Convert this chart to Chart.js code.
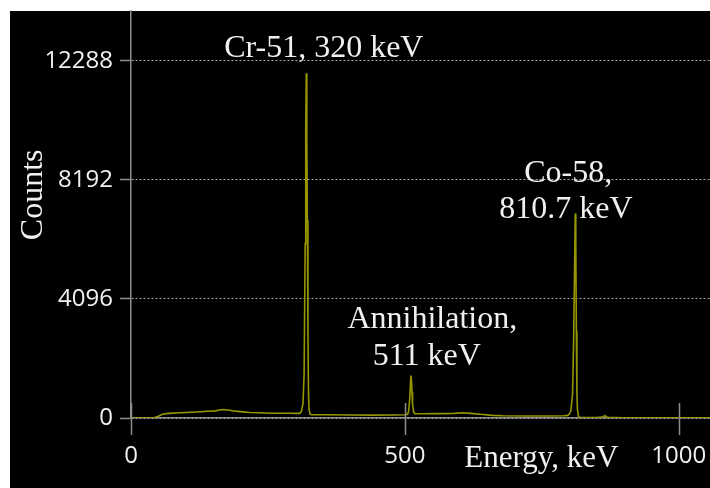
<!DOCTYPE html>
<html><head><meta charset="utf-8">
<script src="https://cdn.jsdelivr.net/npm/chart.js@4/dist/chart.umd.min.js"></script>
<style>html,body{margin:0;padding:0;background:#fff;overflow:hidden}canvas{display:block}</style>
</head><body>
<canvas id="c" width="710" height="488"></canvas>
<script>
// ---- data ----
const energyKeV = [0, 40, 50, 58, 70, 89, 110, 126, 140, 153, 168, 180, 190, 205, 217, 235, 254, 272, 290, 300, 308,
  311, 314, 316, 318, 319, 320, 321, 322, 323, 324, 325, 327, 330, 360, 400, 440, 480, 500,
  505, 507, 509, 511, 512, 513, 514, 516, 518, 533, 560, 590, 606, 620, 637, 660, 679, 720, 760, 790,
  797, 800, 803, 806, 808, 810, 811, 812, 813, 814, 815, 817, 820, 850, 860, 865, 870, 900, 1000, 1057];
const counts = [0, 0, 60, 140, 160, 180, 200, 215, 230, 245, 290, 265, 235, 210, 190, 180, 165, 165, 165, 160, 160,
  220, 500, 1500, 6000, 10000, 11860, 9500, 6800, 3000, 900, 300, 130, 110, 110, 105, 100, 105, 110,
  130, 250, 700, 1463, 1300, 900, 450, 200, 150, 145, 150, 160, 180, 160, 130, 90, 75, 70, 70, 75,
  90, 130, 250, 800, 2600, 5500, 7030, 6000, 3000, 900, 300, 60, 15, 15, 30, 80, 20, 10, 5, 5];
const xTickValues = [0, 500, 1000];
const yTickValues = [0, 4096, 8192, 12288];
const xAxisTitle = 'Energy, keV';
const yAxisTitle = 'Counts';
const peakTexts = ['Cr-51, 320 keV', 'Co-58,', '810.7 keV', 'Annihilation,', '511 keV'];

// ---- layout / style (not data) ----
const AXIS = '#8e8e8e';
const TEXT = '#f0f0f0';
const peakTextAnchors = [[352, 12426], [798, 8123], [794, 6884], [550, 3098], [540, 1824]]; // [keV, counts]
const xTitleAnchor = [749, -1687];
const yTitleAnchor = [-163, 7676];

const bgPlugin = {
  id: 'bg',
  beforeDraw(chart) {
    const ctx = chart.ctx; ctx.save();
    ctx.fillStyle = '#ffffff'; ctx.fillRect(0, 0, chart.width, chart.height);
    ctx.fillStyle = '#000000'; ctx.fillRect(10, 11, chart.width - 10, chart.height - 11);
    ctx.restore();
  }
};
const decoPlugin = {
  id: 'deco',
  afterDraw(chart) {
    const ctx = chart.ctx, xs = chart.scales.x, ys = chart.scales.y;
    const y0 = ys.getPixelForValue(0);
    ctx.save();
    ctx.strokeStyle = AXIS; ctx.lineWidth = 1.5;
    xTickValues.forEach(v => {
      const px = Math.round(xs.getPixelForValue(v)) + 0.5;
      ctx.beginPath(); ctx.moveTo(px, y0 - 15); ctx.lineTo(px, y0 + 17); ctx.stroke();
    });
    ctx.fillStyle = TEXT; ctx.textAlign = 'center'; ctx.textBaseline = 'alphabetic';
    ctx.font = '32px "Liberation Serif"';
    peakTexts.forEach((t, i) => {
      const a = peakTextAnchors[i];
      ctx.fillText(t, xs.getPixelForValue(a[0]), ys.getPixelForValue(a[1]));
    });
    ctx.font = '31px "Liberation Serif"';
    ctx.fillText(xAxisTitle, xs.getPixelForValue(xTitleAnchor[0]), ys.getPixelForValue(xTitleAnchor[1]));
    ctx.translate(xs.getPixelForValue(yTitleAnchor[0]), ys.getPixelForValue(yTitleAnchor[1]));
    ctx.rotate(-Math.PI / 2);
    ctx.font = '32px "Liberation Serif"';
    ctx.fillText(yAxisTitle, 0, 0);
    ctx.restore();
  }
};
const noPad = s => { s.paddingTop = 0; s.paddingBottom = 0; s.paddingLeft = 0; s.paddingRight = 0; };

new Chart(document.getElementById('c'), {
  type: 'line',
  data: {
    datasets: [{
      data: energyKeV.map((e, i) => ({ x: e, y: counts[i] })),
      borderColor: 'rgb(150,150,0)', borderWidth: 1.6, pointRadius: 0, tension: 0, fill: false
    }]
  },
  options: {
    responsive: false, animation: false, devicePixelRatio: 1,
    layout: { autoPadding: false, padding: { top: 11, left: 0, right: 0, bottom: 0 } },
    plugins: { legend: { display: false }, tooltip: { enabled: false } },
    scales: {
      x: {
        type: 'linear', min: 0, max: 1057,
        afterBuildTicks: s => { s.ticks = xTickValues.map(v => ({ value: v })); },
        afterFit: s => { s.height = 70; noPad(s); },
        grid: { display: false, drawTicks: false },
        border: { display: true, color: AXIS, width: 1.5 },
        ticks: { color: TEXT, font: { family: 'Open Sans', size: 24 }, padding: 24, maxRotation: 0, autoSkip: false,
                 callback: v => String(v) }
      },
      y: {
        min: 0, max: 14000,
        afterBuildTicks: s => { s.ticks = yTickValues.map(v => ({ value: v })); },
        afterFit: s => { s.width = 131; noPad(s); },
        grid: { color: '#a8a8a8', lineWidth: 1, tickLength: 11, tickColor: AXIS, tickWidth: 1.5, tickBorderDash: [] },
        border: { display: true, color: AXIS, width: 1.5, dash: [2, 2] },
        ticks: { color: TEXT, font: { family: 'Open Sans', size: 24 }, padding: 7, autoSkip: false,
                 callback: v => String(v) }
      }
    }
  },
  plugins: [bgPlugin, decoPlugin]
});
</script>
</body></html>
